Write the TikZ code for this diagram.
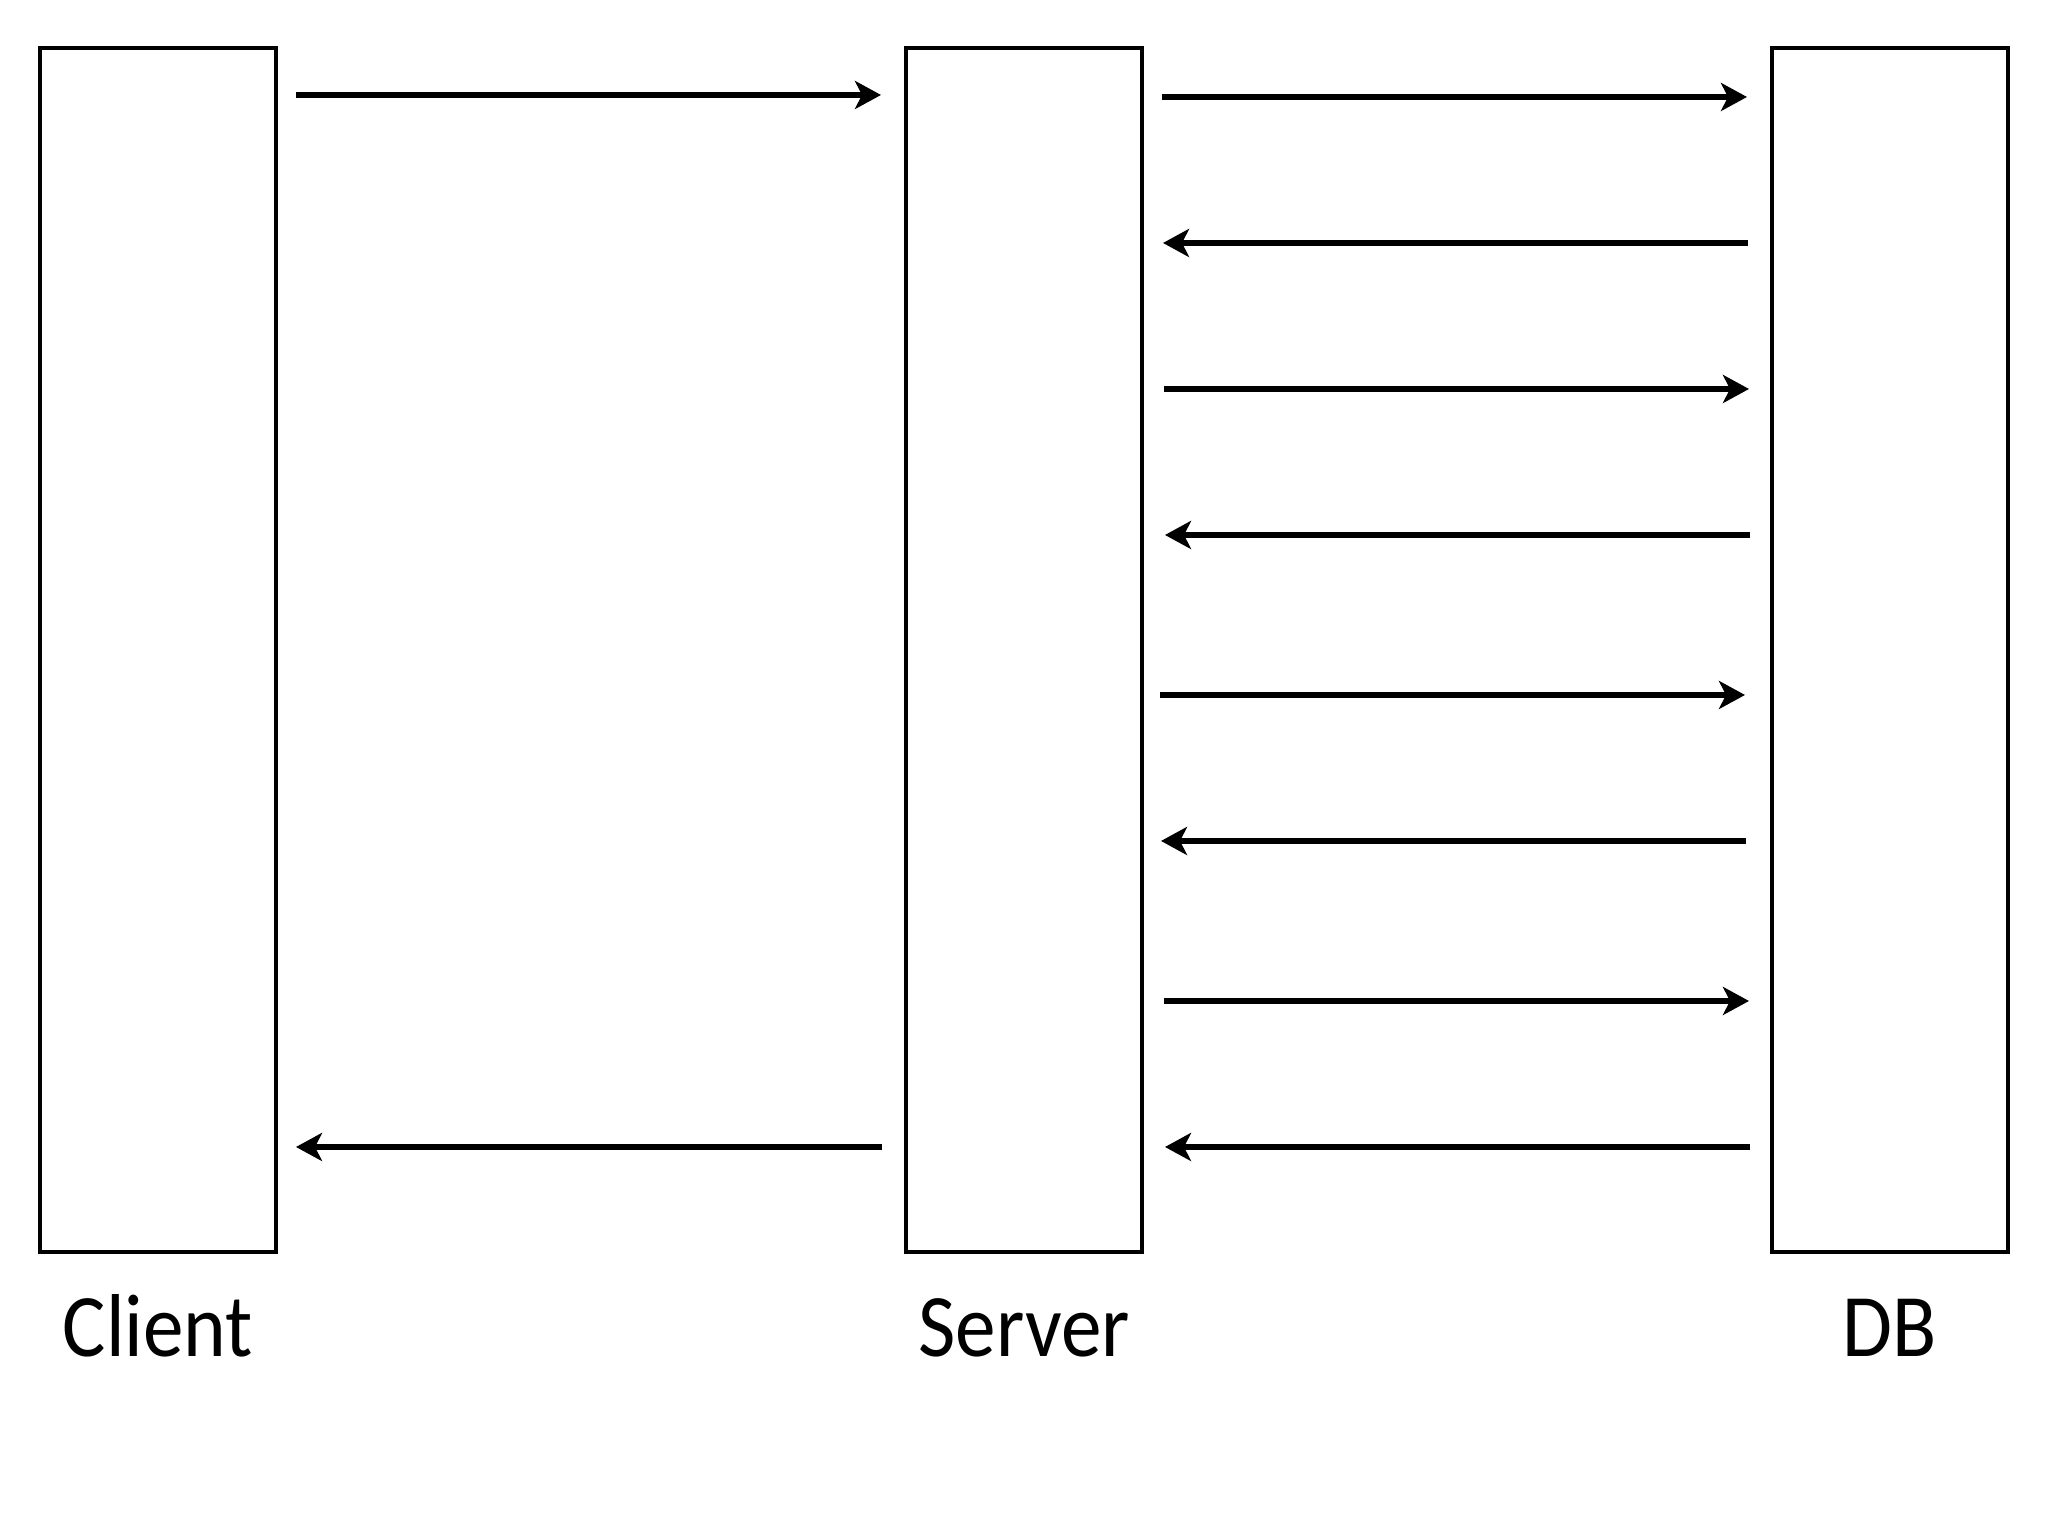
\documentclass[tikz,border=0pt]{standalone}
\usepackage{fontspec}
\setmainfont[FakeStretch=0.91]{Carlito}
\usetikzlibrary{arrows.meta}
\begin{document}
\begin{tikzpicture}[inner sep=0pt,outer sep=0pt,
tierbox/.style={draw,rectangle,minimum width=2.36cm,minimum height=12.04cm,line width=0.045cm},
tierlabel/.style={anchor=base,font=\fontsize{25.4pt}{30pt}\selectfont},
msg/.style={line width=0.065cm,-{Stealth[length=0.26cm,width=0.28cm,inset=0.07cm]}}]
\useasboundingbox (0,0) rectangle (20.48,15.36);
\draw (1.58,8.86) node[tierbox] (client) {};
\draw (10.24,8.86) node[tierbox] (server) {};
\draw (18.90,8.86) node[tierbox] (db) {};
\draw ([yshift=-1.05cm]client.south) node[tierlabel] (clientlab) {Client};
\draw ([yshift=-1.05cm]server.south) node[tierlabel] (serverlab) {Server};
\draw ([yshift=-1.05cm]db.south) node[tierlabel] (dblab) {DB};
% client and server
\draw[msg] ([shift={(0.20,-0.47)}]client.north east) -- ([shift={(-0.25,-0.47)}]server.north west);
\draw[msg] ([shift={(-0.24,-10.99)}]server.north west) -- ([shift={(0.20,-10.99)}]client.north east);
% server and db
\draw[msg] ([shift={(0.20,-0.49)}]server.north east) -- ([shift={(-0.25,-0.49)}]db.north west);
\draw[msg] ([shift={(-0.24,-1.95)}]db.north west) -- ([shift={(0.21,-1.95)}]server.north east);
\draw[msg] ([shift={(0.22,-3.41)}]server.north east) -- ([shift={(-0.23,-3.41)}]db.north west);
\draw[msg] ([shift={(-0.22,-4.87)}]db.north west) -- ([shift={(0.23,-4.87)}]server.north east);
\draw[msg] ([shift={(0.18,-6.47)}]server.north east) -- ([shift={(-0.27,-6.47)}]db.north west);
\draw[msg] ([shift={(-0.26,-7.93)}]db.north west) -- ([shift={(0.19,-7.93)}]server.north east);
\draw[msg] ([shift={(0.22,-9.53)}]server.north east) -- ([shift={(-0.23,-9.53)}]db.north west);
\draw[msg] ([shift={(-0.22,-10.99)}]db.north west) -- ([shift={(0.23,-10.99)}]server.north east);
\end{tikzpicture}
\end{document}
